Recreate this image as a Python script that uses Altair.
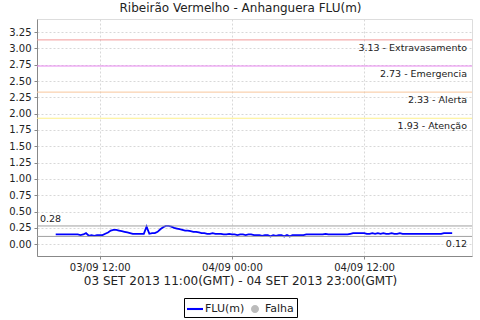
import altair as alt
import pandas as pd

# ---------------- data ----------------
title_text = "Ribeirão Vermelho - Anhanguera FLU(m)"
x_title = "03 SET 2013 11:00(GMT) - 04 SET 2013 23:00(GMT)"

series_start = "2013-09-03 08:00"   # clock time shown on the axis
series_step = "15min"
flu_values = [
    0.15, 0.15, 0.15, 0.15,
    0.15, 0.15, 0.15, 0.15,
    0.15, 0.14, 0.15, 0.17,
    0.13, 0.14, 0.13, 0.14,
    0.14, 0.14, 0.16, 0.18,
    0.21, 0.22, 0.22, 0.21,
    0.20, 0.19, 0.18, 0.17,
    0.16, 0.16, 0.16, 0.16,
    0.16, 0.27, 0.16, 0.17,
    0.17, 0.19, 0.23, 0.26,
    0.28, 0.28, 0.27, 0.25,
    0.24, 0.23, 0.22, 0.21,
    0.21, 0.20, 0.19, 0.19,
    0.18, 0.17, 0.17, 0.16,
    0.16, 0.17, 0.16, 0.16,
    0.16, 0.15, 0.15, 0.16,
    0.15, 0.15, 0.14, 0.15,
    0.15, 0.14, 0.15, 0.15,
    0.14, 0.14, 0.14, 0.13,
    0.14, 0.14, 0.12, 0.14,
    0.13, 0.14, 0.14, 0.12,
    0.14, 0.12, 0.14, 0.14,
    0.14, 0.14, 0.14, 0.15,
    0.15, 0.15, 0.15, 0.15,
    0.15, 0.15, 0.16, 0.15,
    0.15, 0.15, 0.15, 0.15,
    0.15, 0.15, 0.15, 0.16,
    0.17, 0.17, 0.17, 0.17,
    0.17, 0.16, 0.16, 0.17,
    0.16, 0.17, 0.16, 0.17,
    0.16, 0.16, 0.17, 0.16,
    0.16, 0.17, 0.16, 0.16,
    0.16, 0.16, 0.16, 0.16,
    0.16, 0.16, 0.16, 0.16,
    0.16, 0.16, 0.16, 0.16,
    0.16, 0.17, 0.17, 0.17,
    0.17,
]

threshold_values = [3.13, 2.73, 2.33, 1.93]
threshold_names = ["Extravasamento", "Emergencia", "Alerta", "Atenção"]
threshold_colors = ["#f29a9a", "#e886f0", "#f8c69c", "#fdf08a"]

extreme_values = [0.28, 0.12]
extreme_side = ["left", "right"]

x_domain = ["2013-09-03 06:18", "2013-09-04 21:48"]
x_ticks = ["2013-09-03 12:00", "2013-09-04 00:00", "2013-09-04 12:00"]
y_ticks = [0.0, 0.25, 0.5, 0.75, 1.0, 1.25, 1.5, 1.75, 2.0, 2.25, 2.5, 2.75, 3.0, 3.25]
y_domain = [-0.18, 3.45]

legend_entries = ["FLU(m)", "Falha"]
legend_colors = ["#0000ff", "#bbbbbb"]

# ---------------- tables ----------------
def ms(s):
    return int(pd.Timestamp(s, tz="UTC").value // 10**6)

times = pd.date_range(series_start, periods=len(flu_values), freq=series_step, tz="UTC")
df = pd.DataFrame({
    "t": [int(t.value // 10**6) for t in times],
    "v": flu_values,
    "serie": "FLU(m)",
})
thr = pd.DataFrame({
    "v": threshold_values,
    "c": threshold_colors,
    "label": [f"{v:.2f} - {n}" for v, n in zip(threshold_values, threshold_names)],
})
ext = pd.DataFrame({"v": extreme_values, "side": extreme_side,
                    "label": [f"{v:.2f}" for v in extreme_values]})

FONT = "DejaVu Sans"
TXT = "#222222"

x_axis = alt.Axis(
    values=[ms(d) for d in x_ticks], labelExpr="utcFormat(datum.value, '%d/%m %H:%M')",
    title=x_title, titleFontSize=12, titleFontWeight="normal", titleFont=FONT,
    titleColor=TXT, titleX=203, titlePadding=3,
    labelFontSize=10, labelFont=FONT, labelColor=TXT, labelPadding=3,
    tickSize=3, tickColor="#888888", domainColor="#888888",
    grid=True, gridColor="#d8d8d8", gridDash=[2, 2], labelFlush=False,
)
x_enc = alt.X("t:T", scale=alt.Scale(type="utc", domain=[ms(d) for d in x_domain]),
              axis=x_axis)
y_axis = alt.Axis(
    values=y_ticks, format=".2f", title=None, labelOverlap=False,
    labelFontSize=10, labelFont=FONT, labelColor=TXT, labelPadding=3,
    tickSize=3, tickColor="#888888", domainColor="#888888",
    grid=True, gridColor="#d8d8d8", gridDash=[2, 2],
)
y_enc = alt.Y("v:Q", scale=alt.Scale(domain=y_domain, nice=False, zero=False), axis=y_axis)

line = alt.Chart(df).mark_line(color="#0000ff", strokeWidth=1.8).encode(x=x_enc, y=y_enc)

rules = alt.Chart(thr).mark_rule(strokeWidth=1).encode(
    y=y_enc, color=alt.Color("c:N", scale=None))
rule_text = alt.Chart(thr).mark_text(
    align="right", baseline="top", dx=-5, dy=3, fontSize=9.5, font=FONT, color=TXT
).encode(x=alt.value("width"), y=y_enc, text="label:N")

ext_rules = alt.Chart(ext).mark_rule(strokeWidth=1, color="#a0a0a0").encode(y=y_enc)
ext_left = alt.Chart(ext).transform_filter("datum.side == 'left'").mark_text(
    align="left", baseline="bottom", dx=3, dy=-2, fontSize=9.5, font=FONT, color=TXT
).encode(x=alt.value(0), y=y_enc, text="label:N")
ext_right = alt.Chart(ext).transform_filter("datum.side == 'right'").mark_text(
    align="right", baseline="top", dx=-5, dy=3, fontSize=9.5, font=FONT, color=TXT
).encode(x=alt.value("width"), y=y_enc, text="label:N")

leg = alt.Legend(
    title=None, orient="none", legendX=147, legendY=279, direction="horizontal",
    strokeColor="#000000", padding=3, labelFontSize=11, labelFont=FONT,
    labelColor=TXT, symbolSize=256, columnPadding=2, labelOffset=2,
    symbolStrokeWidth=0,
)
shape_paths = ["M-1,-0.13H1V0.13H-1Z",
               "M-0.5,0A0.5,0.5 0 1,1 0.5,0A0.5,0.5 0 1,1 -0.5,0Z"]
legend_layer = alt.Chart(df).transform_filter("false").mark_point(
    filled=True, opacity=1
).encode(
    x=x_enc, y=y_enc,
    color=alt.Color("serie:N", scale=alt.Scale(domain=legend_entries, range=legend_colors), legend=leg),
    shape=alt.Shape("serie:N", scale=alt.Scale(domain=legend_entries, range=shape_paths), legend=leg),
)

chart = alt.layer(
    line, rules, rule_text, ext_rules, ext_left, ext_right, legend_layer
).properties(
    width=435, height=237,
    autosize=alt.AutoSizeParams(type="none"),
    padding={"left": 37, "top": 19, "right": 8, "bottom": 64},
    title=alt.TitleParams(title_text, fontSize=12, fontWeight="normal", font=FONT,
                          color=TXT, anchor="middle", dx=-14, dy=13, offset=5,
                          baseline="bottom"),
).configure_view(stroke="#aaaaaa").configure(background="white")

chart.save("out.html", embed_options={"renderer": "svg", "actions": False})
